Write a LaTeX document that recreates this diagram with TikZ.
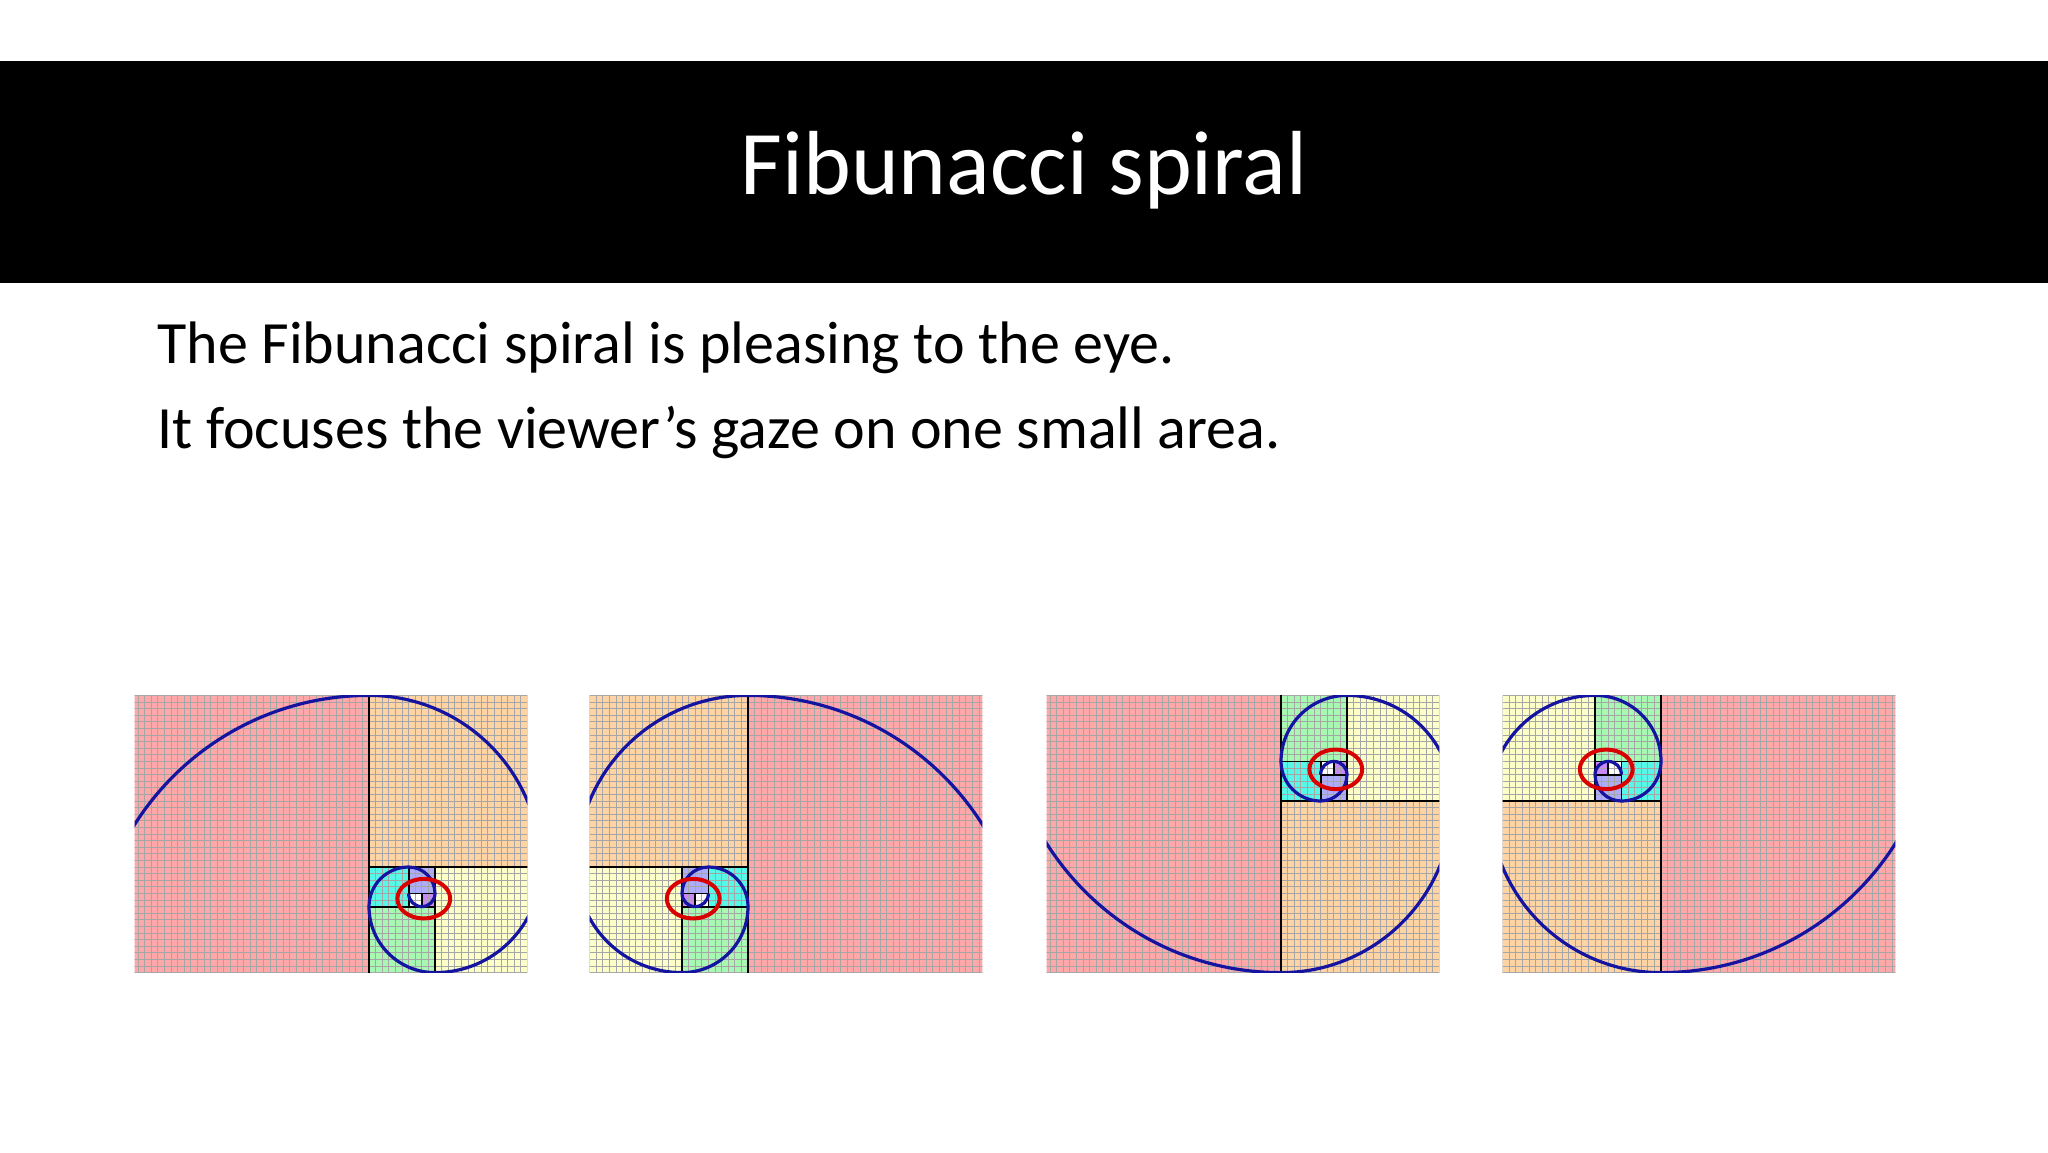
\documentclass[tikz,border=0pt]{standalone}
\usepackage{fontspec}
\setmainfont{Carlito}
\definecolor{cred}{HTML}{FFA8AA}
\definecolor{corange}{HTML}{FFD4A4}
\definecolor{cyellow}{HTML}{FCFFC8}
\definecolor{cgreen}{HTML}{A8F8B4}
\definecolor{ccyan}{HTML}{58F8E8}
\definecolor{clav}{HTML}{ACACF8}
\definecolor{cpurp}{HTML}{C888F8}
\definecolor{cspir}{HTML}{1414A0}
\tikzset{
 gridl/.style={draw=gray!70,line width=0.45pt},
 sqline/.style={draw=black,line width=0.9pt},
 spir/.style={draw=cspir,line width=1.6pt},
 ell/.style={draw=red!85!black,line width=2pt},
}
\newcommand\fibpanel{%
 \begin{scope}
 \clip (-35.5,-16) rectangle (24,26);
 \fill[cred] (-42,-16) rectangle (0,26);
 \fill[corange] (0,0) rectangle (26,26);
 \fill[cyellow] (10,-16) rectangle (26,0);
 \fill[cgreen] (0,-16) rectangle (10,-6);
 \fill[ccyan] (0,-6) rectangle (6,0);
 \fill[clav] (6,-4) rectangle (10,0);
 \fill[white] (6,-6) rectangle (8,-4);
 \fill[cpurp] (8,-6) rectangle (10,-4);
 \foreach \gx in {-35,...,24} {\draw[gridl] (\gx,-16) -- (\gx,26);}
 \foreach \gy in {-16,...,26} {\draw[gridl] (-36,\gy) -- (24,\gy);}
 \draw[sqline] (0,-16) -- (0,26) (0,0) -- (26,0) (10,-16) -- (10,0) (0,-6) -- (10,-6)
   (6,-6) -- (6,0) (6,-4) -- (10,-4) (8,-6) -- (8,-4);
 \draw[spir] (-42,-16) arc[start angle=180,end angle=90,radius=42]
   arc[start angle=90,end angle=0,radius=26]
   arc[start angle=0,end angle=-90,radius=16]
   arc[start angle=-90,end angle=-180,radius=10]
   arc[start angle=180,end angle=90,radius=6]
   arc[start angle=90,end angle=0,radius=4]
   arc[start angle=0,end angle=-90,radius=2]
   arc[start angle=-90,end angle=-180,radius=2];
 \draw[ell] (8.3,-4.8) ellipse [x radius=4,y radius=3];
 \end{scope}}
\begin{document}
\begin{tikzpicture}[x=0.5pt,y=-0.5pt]
\useasboundingbox (0,0) rectangle (2048,1152);
\fill[white] (0,0) rectangle (2048,1152);
\fill[black] (0,61) rectangle (2048,283);
\node[text=white,font=\fontsize{45.5}{50}\selectfont] (title) at (1024,170) {Fibunacci spiral};
\node[anchor=base west,font=\fontsize{30}{36}\selectfont,inner sep=0] (l1) at (157,363) {The Fibunacci spiral is pleasing to the eye.};
\node[anchor=base west,font=\fontsize{30}{36}\selectfont,inner sep=0] (l2) at (157,448) {It focuses the viewer’s gaze on one small area.};
\begin{scope}[shift={(369,867)},xscale=6.6,yscale=-6.6]\fibpanel\end{scope}
\begin{scope}[shift={(748,867)},xscale=-6.6,yscale=-6.6]\fibpanel\end{scope}
\begin{scope}[shift={(1281,801)},xscale=6.6,yscale=6.6]\fibpanel\end{scope}
\begin{scope}[shift={(1661,801)},xscale=-6.6,yscale=6.6]\fibpanel\end{scope}
\end{tikzpicture}
\end{document}
